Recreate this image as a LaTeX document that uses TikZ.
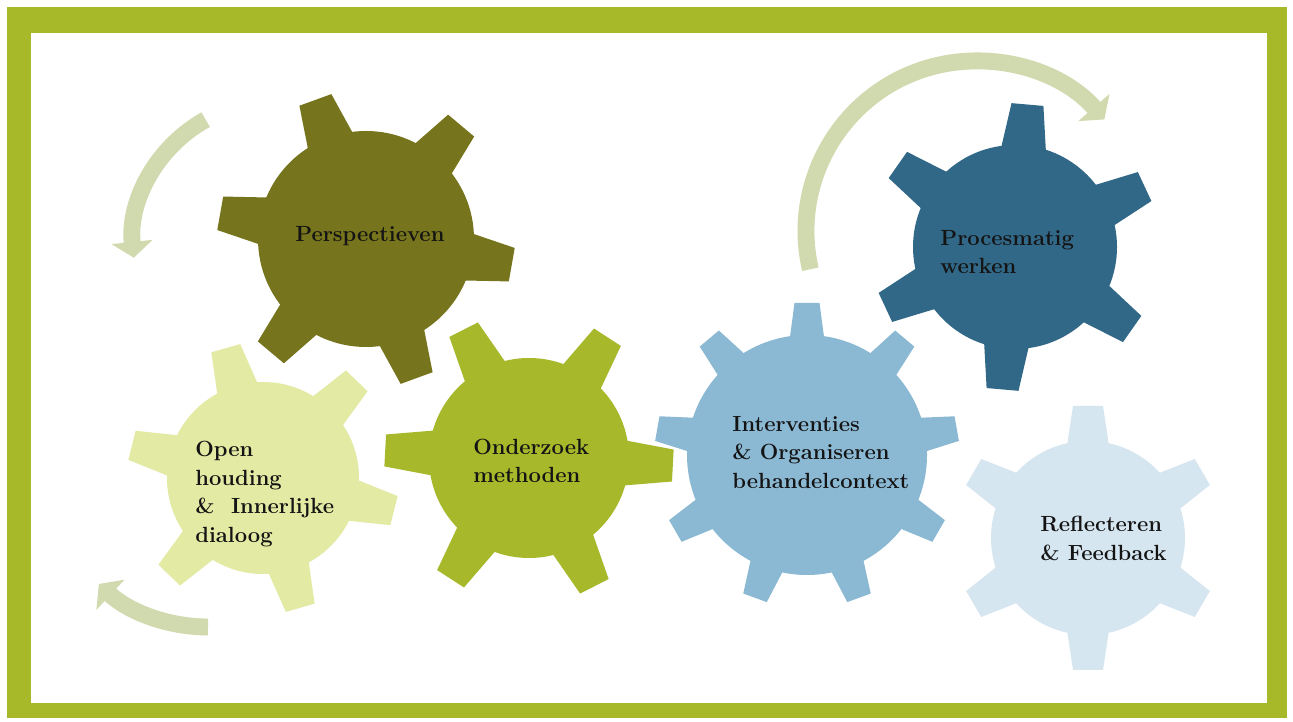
\documentclass[tikz,border=0pt]{standalone}
\usetikzlibrary{arrows.meta}

\definecolor{framegreen}{RGB}{167,184,40}
\definecolor{arrowgreen}{RGB}{209,217,174}
\definecolor{gearolive}{RGB}{118,116,28}
\definecolor{gearpale}{RGB}{226,234,163}
\definecolor{gearlime}{RGB}{167,184,43}
\definecolor{gearsky}{RGB}{139,185,212}
\definecolor{gearnavy}{RGB}{49,103,135}
\definecolor{gearice}{RGB}{214,230,240}
\definecolor{textblack}{RGB}{20,20,20}

\tikzset{
  geartext/.style={font=\fontsize{12.5}{16.4}\selectfont\bfseries,align=left,anchor=west,inner sep=0pt,text=textblack},
  turnarrow/.style={draw=arrowgreen,line width=9.6pt,-{Triangle[width=23pt,length=9pt]}}
}

% centre x, centre y, body radius, tooth radius, teeth, first angle, half tip width, colour
\newcommand{\cogwheel}[8]{%
  \fill[#8] (#1,#2) circle[radius=#3];
  \foreach \tooth in {1,...,#5}{
    \fill[#8,shift={(#1,#2)},rotate=#6+360/#5*\tooth]
      (#3-15,-#7*1.5) -- (#4,-#7) -- (#4,#7) -- (#3-15,#7*1.5) -- cycle;
  }
}

\begin{document}
\begin{tikzpicture}[x=0.02cm,y=0.02cm]
    \fill[white](0,0) rectangle (1293,722);
    \useasboundingbox (0,0) rectangle (1293,722);
    % frame
    \fill[framegreen](7,4) rectangle (1287,715);
    \fill[white](31,19) rectangle (1267,689);
    % arrows
    \draw[turnarrow](274,479) ++(119:141) arc[start angle=119,end angle=186,radius=141];
    \draw[turnarrow](208,255) ++(270:160) arc[start angle=270,end angle=227,radius=160];
    \draw[turnarrow](976,491) ++(193:170) arc[start angle=193,end angle=41,radius=170];
    % gears
    \cogwheel{366}{483}{108}{148}{6}{-10}{17}{gearolive}
    \cogwheel{263}{244}{96}{135}{6}{-14}{15}{gearpale}
    \cogwheel{529}{264}{100}{144}{6}{-3}{16}{gearlime}
    \cogwheel{807}{267}{120}{152}{9}{10}{12.5}{gearsky}
    \cogwheel{1015}{475}{102}{143}{6}{25}{16}{gearnavy}
    \cogwheel{1088}{184}{97}{132}{6}{30}{15}{gearice}
    % labels
    \node[geartext] (persp) at (295,486) {Perspectieven};
    \node[geartext] (proces) at (940,470) {Procesmatig\\werken};
    \node[geartext] (open) at (195,228) {Open\\houding\\\&~ Innerlijke\\dialoog};
    \node[geartext] (onderzoek) at (473,261) {Onderzoek\\methoden};
    \node[geartext] (interv) at (732,269.5) {Interventies\\\& Organiseren\\behandelcontext};
    \node[geartext] (reflect) at (1040,183.5) {Reflecteren\\\& Feedback};
\end{tikzpicture}
\end{document}
